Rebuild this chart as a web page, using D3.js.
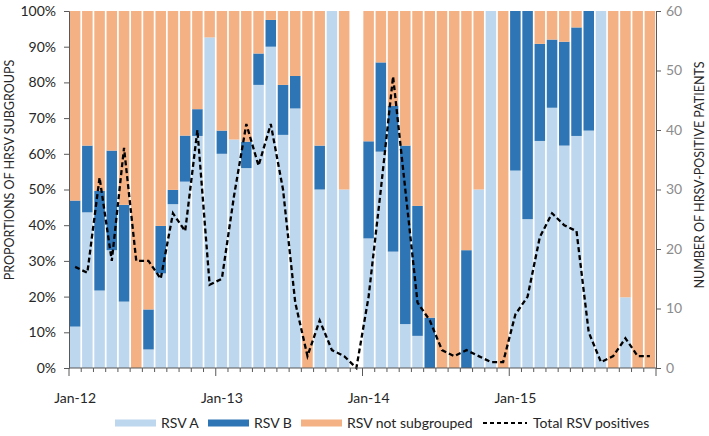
<!DOCTYPE html>
<html>
<head>
<meta charset="utf-8">
<script src="https://cdn.jsdelivr.net/npm/d3@7"></script>
<style>
  body { margin: 0; background: #fff; }
  svg { display: block; font-family: Lato, "Open Sans", sans-serif; }
</style>
</head>
<body>
<div id="chart"></div>
<script>
// monthly data Jan-12 .. Dec-15 (null = no data)
const months = d3.timeMonths(new Date(2012, 0, 1), new Date(2016, 0, 1));

// share of RSV A and RSV B among positives (%)
const rsvA = [11.6, 43.6, 21.7, 33, 18.6, 0, 5.2, 26.5, 45.9, 52.2, 65, 92.6,
  60, 64, 56, 79.3, 90, 65.3, 72.7, 0, 50, 100, 50, null,
  36.3, 60.6, 32.6, 12.3, 9, 0, 0, 0, 0, 50, 100, 0,
  55.3, 41.7, 63.6, 72.9, 62.3, 65, 66.5, 100, 0, 19.8, 0, 0];
const rsvB = [35.3, 18.7, 27.9, 27.9, 27.1, 0, 11.2, 13.3, 4, 12.9, 7.5, 0,
  6.5, 0, 7.4, 8.8, 7.5, 14, 9.1, 0, 12.3, 0, 0, null,
  27.2, 25, 40.8, 50, 36.4, 14.1, 0, 0, 33, 0, 0, 0,
  44.7, 58.3, 27.2, 19.1, 29.1, 30.4, 33.5, 0, 0, 0, 0, 0];
// total RSV positives (right axis)
const totalPos = [17, 16, 32, 18, 37, 18, 18, 15, 26, 23, 40, 14,
  15, 29, 41, 34, 41, 30, 11, 2, 8, 3, 2, 0,
  12, 30, 49, 30, 11, 8, 3, 2, 3, 2, 1, 1,
  9, 12, 22, 26, 24, 23, 6, 1, 2, 5, 2, 2];

const pctTicks = d3.range(0, 101, 10);
const countTicks = d3.range(0, 61, 10);
const seriesNames = ['RSV A', 'RSV B', 'RSV not subgrouped'];
const colors = ['#bdd7ee', '#2e75b6', '#f4b183'];

const width = 709, height = 436;
const margin = {top: 11, right: 53, bottom: 68, left: 69};

const svg = d3.select('#chart').append('svg')
  .attr('width', width)
  .attr('height', height);

const x = d3.scaleBand()
  .domain(months.map((d, i) => i))
  .range([margin.left, width - margin.right])
  .paddingInner(0.14)
  .paddingOuter(0.07);

const y = d3.scaleLinear().domain([0, 100]).range([height - margin.bottom, margin.top]);
const y2 = d3.scaleLinear().domain([0, 60]).range([height - margin.bottom, margin.top]);

// stacked bars
const rows = months.map((m, i) => ({
  i: i,
  a: rsvA[i], b: rsvB[i],
  n: rsvA[i] == null ? null : 100 - rsvA[i] - rsvB[i]
})).filter(d => d.a != null);

const stack = d3.stack().keys(['a', 'b', 'n'])(rows);

svg.append('g').selectAll('g')
  .data(stack)
  .join('g')
  .attr('fill', (d, k) => colors[k])
  .selectAll('rect')
  .data(d => d)
  .join('rect')
  .attr('x', d => x(d.data.i))
  .attr('width', x.bandwidth())
  .attr('y', d => y(d[1]))
  .attr('height', d => y(d[0]) - y(d[1]));

// dashed total line
const line = d3.line()
  .x((d, i) => x(i) + x.bandwidth() / 2)
  .y(d => y2(d));

svg.append('path')
  .datum(totalPos)
  .attr('d', line)
  .attr('fill', 'none')
  .attr('stroke', '#000')
  .attr('stroke-width', 2.3)
  .attr('stroke-dasharray', '5,3');

// left axis
const yAxis = svg.append('g')
  .attr('transform', `translate(${margin.left},0)`)
  .call(d3.axisLeft(y).tickValues(pctTicks).tickFormat(d => d + '%').tickSizeOuter(0).tickSize(5));
yAxis.select('.domain').attr('stroke', '#595959');
yAxis.selectAll('.tick line').attr('stroke', '#595959');
yAxis.selectAll('text').attr('font-size', 14).attr('fill', '#262626').attr('x', -13)
  .attr('font-family', 'Lato, sans-serif');

// right axis
const y2Axis = svg.append('g')
  .attr('transform', `translate(${width - margin.right},0)`)
  .call(d3.axisRight(y2).tickValues(countTicks).tickSizeOuter(0).tickSize(5));
y2Axis.select('.domain').attr('stroke', '#595959');
y2Axis.selectAll('.tick line').attr('stroke', '#595959');
y2Axis.selectAll('text').attr('font-size', 14).attr('fill', '#8c8c8c').attr('x', 10)
  .attr('font-family', 'Lato, sans-serif');

// bottom axis: tick on every month boundary, longer at January
const baseY = height - margin.bottom;
const step = x.step();
const bx = svg.append('g');
bx.append('line')
  .attr('x1', margin.left).attr('x2', width - margin.right)
  .attr('y1', baseY).attr('y2', baseY)
  .attr('stroke', '#595959');
bx.selectAll('line.tk')
  .data(d3.range(months.length + 1))
  .join('line')
  .attr('class', 'tk')
  .attr('x1', i => margin.left + i * step)
  .attr('x2', i => margin.left + i * step)
  .attr('y1', baseY)
  .attr('y2', i => baseY + (i % 12 === 0 ? 8 : 4))
  .attr('stroke', '#595959');

const fmt = d3.timeFormat('%b-%y');
bx.selectAll('text')
  .data(months.filter(m => m.getMonth() === 0))
  .join('text')
  .attr('x', m => x(months.findIndex(d => +d === +m)) + x.bandwidth() / 2)
  .attr('y', baseY + 35)
  .attr('text-anchor', 'middle')
  .attr('font-size', 14)
  .attr('fill', '#262626')
  .text(fmt);

// axis titles
svg.append('text')
  .attr('transform', 'translate(14,170) rotate(-90)')
  .attr('text-anchor', 'middle')
  .attr('font-size', 12.5)
  .attr('fill', '#262626')
  .text('PROPORTIONS OF HRSV SUBGROUPS');

svg.append('text')
  .attr('transform', 'translate(704,175) rotate(-90)')
  .attr('text-anchor', 'middle')
  .attr('font-size', 12.5)
  .attr('fill', '#262626')
  .text('NUMBER OF HRSV-POSITIVE PATIENTS');

// legend
const legendY = 423;
const legend = svg.append('g');
const items = [
  {name: seriesNames[0], x: 115, color: colors[0]},
  {name: seriesNames[1], x: 208, color: colors[1]},
  {name: seriesNames[2], x: 301, color: colors[2]}
];
items.forEach(it => {
  legend.append('rect')
    .attr('x', it.x).attr('y', legendY - 3.5)
    .attr('width', 41).attr('height', 7)
    .attr('fill', it.color);
  legend.append('text')
    .attr('x', it.x + 46).attr('y', legendY + 5)
    .attr('font-size', 14)
    .attr('fill', '#262626')
    .text(it.name);
});
legend.append('line')
  .attr('x1', 483).attr('x2', 527)
  .attr('y1', legendY).attr('y2', legendY)
  .attr('stroke', '#000').attr('stroke-width', 2)
  .attr('stroke-dasharray', '4,3');
legend.append('text')
  .attr('x', 533).attr('y', legendY + 5)
  .attr('font-size', 14)
  .attr('fill', '#262626')
  .text('Total RSV positives');
</script>
</body>
</html>
